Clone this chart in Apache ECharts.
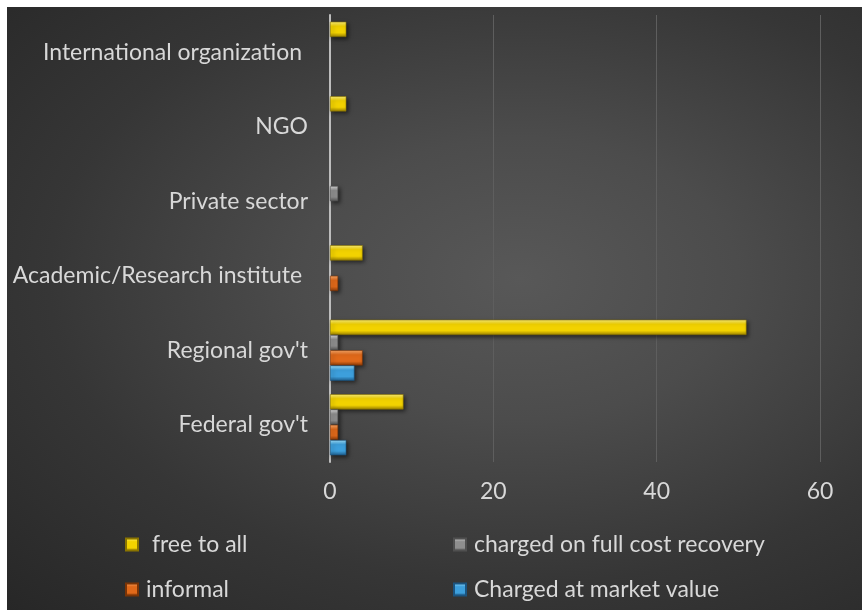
<!DOCTYPE html>
<html>
<head>
<meta charset="utf-8">
<script src="https://cdn.jsdelivr.net/npm/echarts@6/dist/echarts.min.js"></script>
<style>
  html, body { margin: 0; padding: 0; background: #ffffff; }
  #chart {
    position: absolute; left: 7px; top: 7px; width: 855px; height: 603px;
    background: radial-gradient(ellipse farthest-corner at 60% 45%, #585858 0%, #4c4c4c 30%, #363636 65%, #272727 100%);
  }
</style>
</head>
<body>
<div id="chart"></div>
<script>
// Categories, bottom to top along the value axis
const categories = ["Federal gov't", "Regional gov't", "Academic/Research institute ", "Private sector", "NGO", "International organization "];
const xTicks = [0, 20, 40, 60];

// Series values, one per category (same order as categories)
const freeToAll      = [9, 51, 4, 0, 2, 2];
const fullCost       = [1, 1, 0, 1, 0, 0];
const informal       = [1, 4, 1, 0, 0, 0];
const marketValue    = [2, 3, 0, 0, 0, 0];

const seriesNames = [" free to all", "charged on full cost recovery", "informal", "Charged at market value"];

const FONT = 'Lato';
const TEXT = '#d8d8d8';

function bevel(light, mid, dark) {
  return new echarts.graphic.LinearGradient(0, 0, 0, 1, [
    { offset: 0, color: light },
    { offset: 0.3, color: mid },
    { offset: 0.72, color: mid },
    { offset: 1, color: dark }
  ]);
}

const styles = {
  free:   { color: bevel('#fff27a', '#f2d200', '#9c8200'), borderColor: '#8a7400' },
  full:   { color: bevel('#d8d8d8', '#8e8e8e', '#565656'), borderColor: '#505050' },
  inf:    { color: bevel('#ffab6a', '#e0691a', '#8e3c08'), borderColor: '#7a3406' },
  market: { color: bevel('#9fe2ff', '#3d9fdc', '#1f5f8e'), borderColor: '#1b5480' }
};

// Zero values stay in the data but are not painted
function toItems(arr) {
  return arr.map(v => v === 0 ? { value: 0, itemStyle: { opacity: 0 } } : v);
}

function barSeries(name, data, st) {
  return {
    name: name,
    type: 'bar',
    data: toItems(data),
    barGap: '0%',
    barCategoryGap: '18%',
    itemStyle: {
      color: st.color,
      borderColor: st.borderColor,
      borderWidth: 0.6,
      shadowColor: 'rgba(0,0,0,0.55)',
      shadowBlur: 4,
      shadowOffsetX: 2,
      shadowOffsetY: 2
    }
  };
}

function legendAt(name, left, top) {
  return {
    data: [name],
    left: left,
    top: top,
    padding: 0,
    itemWidth: 12,
    itemHeight: 12,
    icon: 'rect',
    selectedMode: false,
    textStyle: { color: TEXT, fontSize: 23, fontFamily: FONT, padding: [0, 0, 0, 3] }
  };
}

const chart = echarts.init(document.getElementById('chart'), null, { renderer: 'canvas' });

chart.setOption({
  animation: false,
  backgroundColor: 'transparent',
  grid: { left: 323, right: 42, top: 8, bottom: 148, containLabel: false },
  legend: [
    legendAt(seriesNames[0], 118, 526),
    legendAt(seriesNames[1], 446, 526),
    legendAt(seriesNames[2], 118, 571),
    legendAt(seriesNames[3], 446, 571)
  ],
  xAxis: {
    type: 'value',
    min: xTicks[0],
    max: xTicks[xTicks.length - 1],
    interval: 20,
    axisLine: { show: false },
    axisTick: { show: false },
    splitLine: { show: true, lineStyle: { color: '#5e5e5e', width: 1 } },
    axisLabel: { color: TEXT, fontSize: 23, fontFamily: FONT, margin: 18 }
  },
  yAxis: {
    type: 'category',
    data: categories,
    axisLine: { show: true, lineStyle: { color: '#bdbdbd', width: 2 } },
    axisTick: { show: false },
    splitLine: { show: false },
    axisLabel: { color: TEXT, fontSize: 23, fontFamily: FONT, margin: 22 }
  },
  series: [
    barSeries(seriesNames[0], freeToAll, styles.free),
    barSeries(seriesNames[1], fullCost, styles.full),
    barSeries(seriesNames[2], informal, styles.inf),
    barSeries(seriesNames[3], marketValue, styles.market)
  ]
});
</script>
</body>
</html>
